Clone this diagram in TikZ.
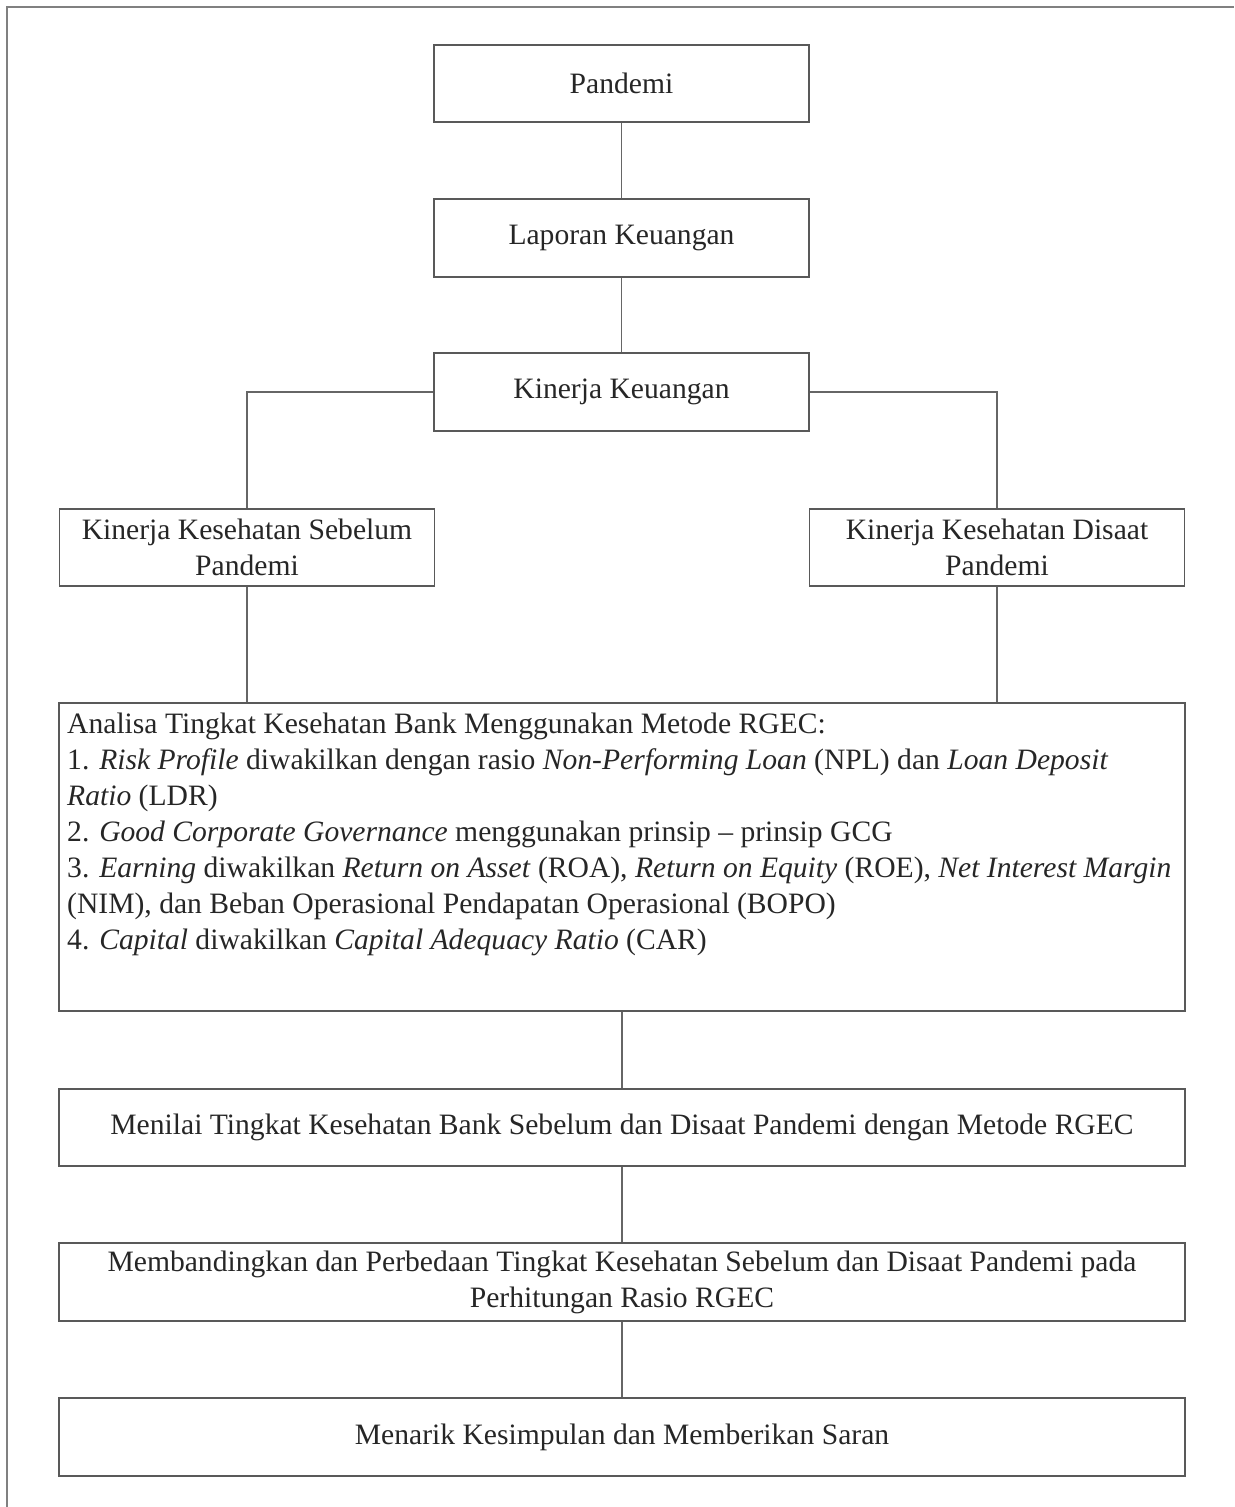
\documentclass[tikz,border=0pt]{standalone}
\usepackage{fontspec}
\setmainfont{Liberation Serif}
\begin{document}
\begin{tikzpicture}[x=1pt,y=-1pt,
  box/.style={draw=black!65, line width=1.6pt, inner sep=0pt, align=center,
    text=black!85, font=\fontsize{29.6}{36}\selectfont},
  wide/.style={box, minimum width=1126pt},
  narrow/.style={box, minimum width=375pt},
  conn/.style={draw=black!60, line width=1.6pt}]
\useasboundingbox (0,0) rectangle (1234,1507);
\draw[draw=black!50, line width=2pt] (7,1507) -- (7,7) -- (1234,7);
\node[narrow, minimum height=77pt] (p) at (621.5,83.5) {Pandemi};
\node[narrow, minimum height=78pt] (lk) at (621.5,238) {Laporan Keuangan};
\node[narrow, minimum height=78pt] (kk) at (621.5,392) {Kinerja Keuangan};
\node[narrow, minimum height=77pt] (ks) at (247,547.5) {Kinerja Kesehatan Sebelum\\Pandemi};
\node[narrow, minimum height=77pt] (kd) at (997,547.5) {Kinerja Kesehatan Disaat\\Pandemi};
\node[wide, minimum height=308pt] (big) at (622,857) {};
\node[anchor=north west, inner sep=0pt, align=left, text=black!85,
  font=\fontsize{29.6}{36}\selectfont] (bigtext) at (67,713)
  {Analisa Tingkat Kesehatan Bank Menggunakan Metode RGEC:\\
   1. \textit{Risk Profile} diwakilkan dengan rasio \textit{Non-Performing Loan} (NPL) dan \textit{Loan Deposit}\\
   \textit{Ratio} (LDR)\\
   2. \textit{Good Corporate Governance} menggunakan prinsip -- prinsip GCG\\
   3. \textit{Earning} diwakilkan \textit{Return on Asset} (ROA), \textit{Return on Equity} (ROE), \textit{Net Interest Margin}\\
   (NIM), dan Beban Operasional Pendapatan Operasional (BOPO)\\
   4. \textit{Capital} diwakilkan \textit{Capital Adequacy Ratio} (CAR)};
\node[wide, minimum height=77pt] (mn) at (622,1127.5) {Menilai Tingkat Kesehatan Bank Sebelum dan Disaat Pandemi dengan Metode RGEC};
\node[wide, minimum height=78pt] (mb) at (622,1282) {Membandingkan dan Perbedaan Tingkat Kesehatan Sebelum dan Disaat Pandemi pada\\Perhitungan Rasio RGEC};
\node[wide, minimum height=78pt] (mk) at (622,1437) {Menarik Kesimpulan dan Memberikan Saran};
\draw[conn] (p.south) -- (lk.north);
\draw[conn] (lk.south) -- (kk.north);
\draw[conn] (kk.west) -| (ks.north);
\draw[conn] (kk.east) -| (kd.north);
\draw[conn] (ks.south) -- (ks.south |- big.north);
\draw[conn] (kd.south) -- (kd.south |- big.north);
\draw[conn] (big.south) -- (mn.north);
\draw[conn] (mn.south) -- (mb.north);
\draw[conn] (mb.south) -- (mk.north);
\end{tikzpicture}
\end{document}
